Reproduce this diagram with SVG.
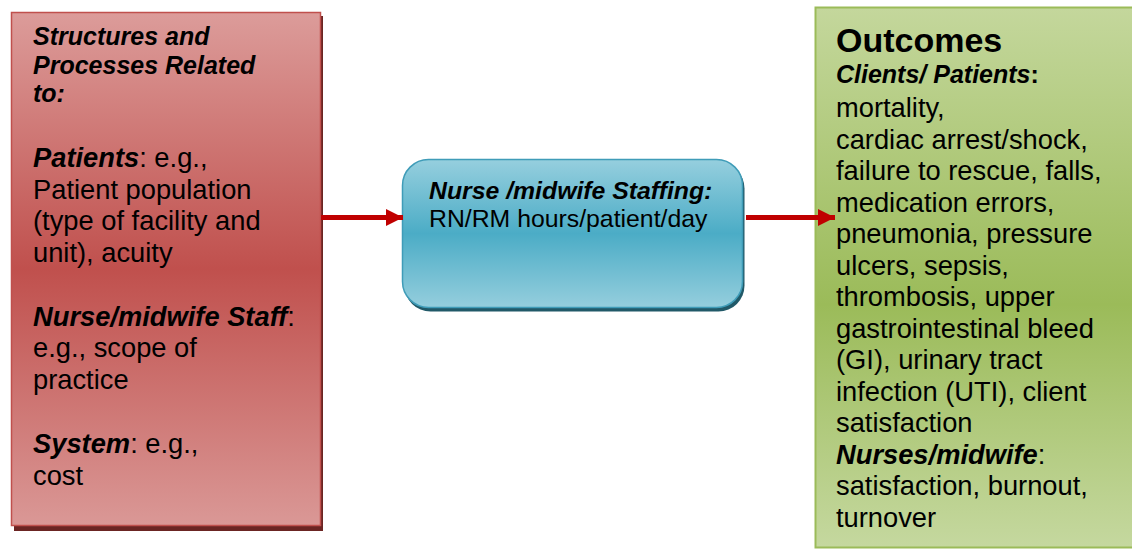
<svg xmlns="http://www.w3.org/2000/svg" width="1132" height="549" viewBox="0 0 1132 549">
<style>
text{font-family:"Liberation Sans",Arial,sans-serif;fill:#000}
.b{font-size:27.3px}
.h{font-size:25px;font-weight:bold;font-style:italic}
.bi{font-weight:bold;font-style:italic}
.m{font-size:24.8px}
.conn{stroke:#c00000;stroke-width:5;fill:none}
</style>
<defs>
<linearGradient id="gRed" x1="0" y1="0" x2="0" y2="1">
<stop offset="0" stop-color="#dc9c9a"/>
<stop offset="0.5" stop-color="#c0504d"/>
<stop offset="1" stop-color="#da9896"/>
</linearGradient>
<linearGradient id="gBlue" x1="0" y1="0" x2="0" y2="1">
<stop offset="0" stop-color="#96cfde"/>
<stop offset="0.5" stop-color="#4bacc6"/>
<stop offset="1" stop-color="#95cedd"/>
</linearGradient>
<linearGradient id="gGreen" x1="0" y1="0" x2="0" y2="1">
<stop offset="0" stop-color="#c4d79c"/>
<stop offset="0.55" stop-color="#9bbb59"/>
<stop offset="1" stop-color="#c5d89f"/>
</linearGradient>
<marker id="arr" viewBox="0 0 10 10" refX="10" refY="5" markerWidth="3.4" markerHeight="3.4" markerUnits="strokeWidth" orient="auto">
<path d="M0,0 L10,5 L0,10 Z" fill="#c00000"/>
</marker>
</defs>

<g id="node-structures">
<rect x="14" y="16" width="309" height="515" fill="#6b2523"/>
<rect x="11.5" y="12.5" width="309" height="513" fill="url(#gRed)" stroke="#c0504d" stroke-width="1.5"/>
<text class="h" x="33" y="45">Structures and</text>
<text class="h" x="33" y="73.5">Processes Related</text>
<text class="h" x="33" y="102">to:</text>
<text class="b" x="33" y="167"><tspan class="bi">Patients</tspan>: e.g.,</text>
<text class="b" x="33" y="198.5">Patient population</text>
<text class="b" x="33" y="230">(type of facility and</text>
<text class="b" x="33" y="261.5">unit), acuity</text>
<text class="b" x="33" y="325.5"><tspan class="bi">Nurse/midwife Staff</tspan>:</text>
<text class="b" x="33" y="357">e.g., scope of</text>
<text class="b" x="33" y="388.5">practice</text>
<text class="b" x="33" y="453"><tspan class="bi">System</tspan>: e.g.,</text>
<text class="b" x="33" y="484.5">cost</text>
</g>

<g id="node-staffing">
<rect x="404.5" y="162.5" width="340" height="149" rx="26" fill="#215968"/>
<rect x="402.5" y="159.5" width="340" height="148" rx="26" fill="url(#gBlue)" stroke="#3f9cb8" stroke-width="1.5"/>
<text class="m bi" x="429" y="199">Nurse /midwife Staffing:</text>
<text class="m" x="429" y="227">RN/RM hours/patient/day</text>
</g>

<g id="node-outcomes">
<rect x="815.5" y="7.5" width="330" height="540" fill="url(#gGreen)" stroke="#9bbb59" stroke-width="2"/>
<text x="836" y="52" style="font-size:34px;font-weight:bold">Outcomes</text>
<text class="h" x="836" y="83"><tspan>Clients/ Patients</tspan><tspan style="font-style:normal">:</tspan></text>
<text class="b" x="836" y="117">mortality,</text>
<text class="b" x="836" y="148.5">cardiac arrest/shock,</text>
<text class="b" x="836" y="180">failure to rescue, falls,</text>
<text class="b" x="836" y="211.5">medication errors,</text>
<text class="b" x="836" y="243">pneumonia, pressure</text>
<text class="b" x="836" y="274.5">ulcers, sepsis,</text>
<text class="b" x="836" y="306">thrombosis, upper</text>
<text class="b" x="836" y="337.5">gastrointestinal bleed</text>
<text class="b" x="836" y="369">(GI), urinary tract</text>
<text class="b" x="836" y="400.5">infection (UTI), client</text>
<text class="b" x="836" y="432">satisfaction</text>
<text class="b" x="836" y="463.5"><tspan class="bi">Nurses/midwife</tspan>:</text>
<text class="b" x="836" y="495">satisfaction, burnout,</text>
<text class="b" x="836" y="526.5">turnover</text>
</g>

<g id="connectors">
<line class="conn" x1="321" y1="217.5" x2="403" y2="217.5" marker-end="url(#arr)"/>
<line class="conn" x1="746" y1="217.5" x2="835" y2="217.5" marker-end="url(#arr)"/>
</g>
</svg>
